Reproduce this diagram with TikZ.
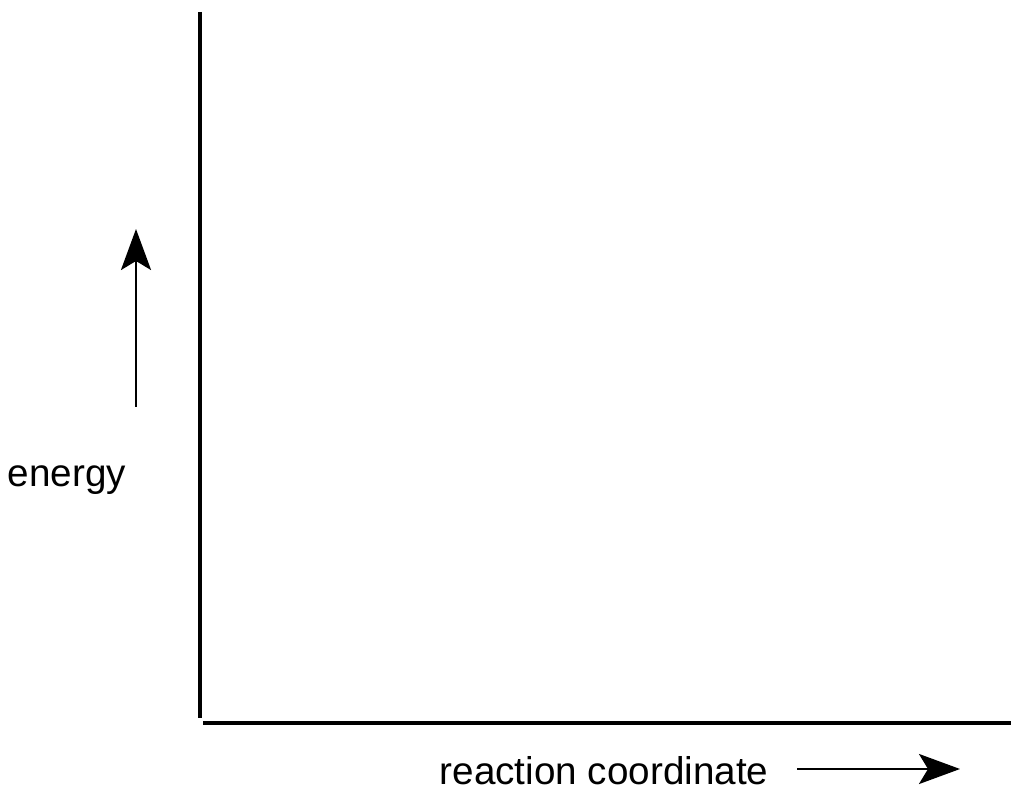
\documentclass[tikz,border=0pt]{standalone}
\usepackage{fontspec}
\setmainfont{Liberation Sans}
\usetikzlibrary{arrows.meta, positioning}

\begin{document}
\begin{tikzpicture} [font=\fontsize{11}{13}\selectfont, inner sep=0pt,
        axis/.style = {line width=0.9pt},
        dir/.style = {-{Stealth[length=4.1mm, width=3mm, inset=0.9mm]}, line width=0.75pt}]
        \useasboundingbox (0,0) rectangle (10.11,7.88);

        \coordinate (top) at (2.00,7.76);
        \coordinate (corner) at (2.00,0.70);
        \coordinate (origin) at (2.03,0.65);
        \coordinate (far) at (10.11,0.65);

        \node (energy) [anchor=base west] at (0.07,3.02) {energy};
        \node (rc) [anchor=base west] at (4.39,0.04) {reaction coordinate};

        \coordinate (up0) at (1.36,3.81);
        \node (up1) [coordinate, above = 1.78cm of up0] {};
        \coordinate (rt0) at (7.97,0.19);
        \node (rt1) [coordinate, right = 1.63cm of rt0] {};

        \draw [axis] (top) -- (corner);
        \draw [axis] (origin) -- (far);
        \draw [dir] (up0) -- (up1);
        \draw [dir] (rt0) -- (rt1);
    \end{tikzpicture}
\end{document}
